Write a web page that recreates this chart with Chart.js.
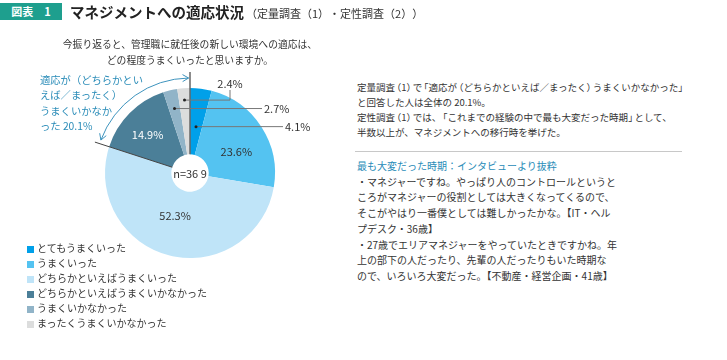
<!DOCTYPE html>
<html lang="ja">
<head>
<meta charset="utf-8">
<script src="https://cdn.jsdelivr.net/npm/chart.js@4.4.0/dist/chart.umd.min.js"></script>
<style>
body { margin:0; width:727px; height:360px; position:relative; background:#fff; overflow:hidden;
  font-family:"Noto Sans CJK JP","Noto Sans",sans-serif; color:#333; }
.abs { position:absolute; white-space:nowrap; }
#pie { position:absolute; left:0; top:0; }
#badge { left:0; top:3px; width:62px; height:17px; background:#1e9f8e; color:#fff; font-size:11px;
  font-weight:700; line-height:17px; text-align:center; }
#title { left:70px; top:2px; font-size:14.5px; font-weight:700; line-height:20px; color:#222; }
#subtitle { left:246px; top:4px; font-size:11px; line-height:18px; color:#333; text-spacing-trim:space-all; }
#question { left:0; width:380px; top:36px; text-align:center; font-size:9.8px; line-height:16px; }
#note { left:40px; top:72px; font-size:10.3px; line-height:15.3px; color:#2a8cb8; }
#summary { left:357px; top:80px; font-size:9.5px; line-height:15px; text-spacing-trim:space-all; }
#summary .o { font-feature-settings:"halt"; margin-left:1.5px; }
#summary .c { font-feature-settings:"halt"; margin-right:1.5px; }
#rule { left:355px; top:151px; width:327px; height:1px; background:#c8c8c8; }
#quotes { left:357px; top:158px; font-size:10px; line-height:15.7px; }
#quotes .head { color:#2a8cb8; }
#legend { left:27px; top:240px; font-size:10px; line-height:15px; }
#legend .sw { display:inline-block; width:7px; height:7px; margin-right:3px; vertical-align:-0.5px; }
</style>
</head>
<body>
<canvas id="pie" width="350" height="360"></canvas>
<div class="abs" id="badge">図表　1</div>
<div class="abs" id="title">マネジメントへの適応状況</div>
<div class="abs" id="subtitle">（定量調査（1）・定性調査（2））</div>
<div class="abs" id="question">今振り返ると、管理職に就任後の新しい環境への適応は、<br>どの程度うまくいったと思いますか。</div>
<div class="abs" id="note">適応が（どちらかとい<br>えば／まったく）<br>うまくいかなか<br>った 20.1%</div>
<div class="abs" id="summary">定量調査<span class="o">（</span>1<span class="c">）</span>で<span class="o">「</span>適応が<span class="o">（</span>どちらかといえば／まったく<span class="c">）</span>うまくいかなかった<span class="c">」</span><br>と回答した人は全体の 20.1%。<br>定性調査<span class="o">（</span>1<span class="c">）</span>では、<span class="o">「</span>これまでの経験の中で最も大変だった時期<span class="c">」</span>として、<br>半数以上が、マネジメントへの移行時を挙げた。</div>
<div class="abs" id="rule"></div>
<div class="abs" id="quotes"><span class="head">最も大変だった時期：インタビューより抜粋</span><br>・マネジャーですね。やっぱり人のコントロールというと<br>ころがマネジャーの役割としては大きくなってくるので、<br>そこがやはり一番僕としては難しかったかな。【IT・ヘル<br>プデスク・36歳】<br>・27歳でエリアマネジャーをやっていたときですかね。年<br>上の部下の人だったり、先輩の人だったりもいた時期な<br>ので、いろいろ大変だった。【不動産・経営企画・41歳】</div>
<div class="abs" id="legend"></div>
<script>
// データ
const categories = ['とてもうまくいった', 'うまくいった', 'どちらかといえばうまくいった',
    'どちらかといえばうまくいかなかった', 'うまくいかなかった', 'まったくうまくいかなかった'];
const values = [4.1, 23.6, 52.3, 14.9, 2.7, 2.4];
const colors = ['#00a0e9', '#54c3f1', '#bfe4f8', '#4b7f98', '#91b4c8', '#dcdddd'];
const sampleLabel = 'n=36 9';

// ラベルの置き方
const labelStyle = [
    { type: 'leader', dotR: 0.55, lineX: 93 },
    { type: 'inside', r: 0.6, da: 8, color: '#333' },
    { type: 'inside', r: 0.53, da: 5.5, color: '#333' },
    { type: 'inside', r: 0.67, da: -3, color: '#fff' },
    { type: 'leader', dotR: 0.78, lineX: 72 },
    { type: 'elbow', dotR: 0.86, lineX: 40, lineY: -83 }
];

// 凡例
let legendHtml = '';
categories.forEach(function(c, i) {
    legendHtml += `<div><span class="sw" style="background:${colors[i]}"></span>${c}</div>`;
});
document.getElementById('legend').innerHTML = legendHtml;

function chevron(ctx, x, y, dx, dy) {
    // (dx,dy) 矢印の向き
    let nx = -dy, ny = dx;
    ctx.beginPath();
    ctx.moveTo(x - dx * 6 + nx * 3.5, y - dy * 6 + ny * 3.5);
    ctx.lineTo(x, y);
    ctx.lineTo(x - dx * 6 - nx * 3.5, y - dy * 6 - ny * 3.5);
    ctx.stroke();
}

const decoPlugin = {
    id: 'deco',
    afterDatasetsDraw(chart) {
        const ctx = chart.ctx;
        const arcs = chart.getDatasetMeta(0).data;
        const cx = arcs[0].x, cy = arcs[0].y;
        const R = arcs[0].outerRadius, r0 = arcs[0].innerRadius;
        ctx.save();
        // 上の縦線
        ctx.strokeStyle = '#666';
        ctx.lineWidth = 1.5;
        ctx.beginPath();
        ctx.moveTo(cx, cy - R - 16);
        ctx.lineTo(cx, cy - r0);
        ctx.stroke();
        // 境界線
        let a = arcs[3].startAngle;
        ctx.strokeStyle = '#444';
        ctx.lineWidth = 1;
        ctx.beginPath();
        ctx.moveTo(cx + Math.cos(a) * r0, cy + Math.sin(a) * r0);
        ctx.lineTo(cx + Math.cos(a) * (R + 15), cy + Math.sin(a) * (R + 15));
        ctx.stroke();
        // 矢印付きの弧
        let rr = R + 10;
        let a1 = a + 0.04, a2 = arcs[5].endAngle - 0.015;
        ctx.strokeStyle = '#3d93bd';
        ctx.beginPath();
        ctx.arc(cx, cy, rr, a1, a2);
        ctx.stroke();
        chevron(ctx, cx + Math.cos(a2) * rr, cy + Math.sin(a2) * rr, -Math.sin(a2), Math.cos(a2));
        chevron(ctx, cx + Math.cos(a1) * rr, cy + Math.sin(a1) * rr, Math.sin(a1), -Math.cos(a1));
        // 中央
        ctx.fillStyle = '#333';
        ctx.font = '11px "Noto Sans CJK JP"';
        ctx.textAlign = 'center';
        ctx.textBaseline = 'middle';
        ctx.fillText(sampleLabel, cx, cy + 1);
        // 数値ラベル
        arcs.forEach(function(el, i) {
            let st = labelStyle[i];
            let text = values[i].toFixed(1) + '%';
            let mid = (el.startAngle + el.endAngle) / 2;
            if (st.type === 'inside') {
                let m = mid + st.da * Math.PI / 180;
                let r = R * st.r;
                ctx.fillStyle = st.color;
                ctx.textAlign = 'center';
                ctx.fillText(text, cx + Math.cos(m) * r, cy + Math.sin(m) * r);
                return;
            }
            let px = cx + Math.cos(mid) * R * st.dotR;
            let py = cy + Math.sin(mid) * R * st.dotR;
            ctx.strokeStyle = '#777';
            ctx.lineWidth = 1;
            ctx.beginPath();
            ctx.moveTo(px, py);
            ctx.lineTo(cx + st.lineX, py);
            if (st.type === 'elbow') ctx.lineTo(cx + st.lineX, cy + st.lineY);
            ctx.stroke();
            ctx.fillStyle = '#222';
            ctx.beginPath();
            ctx.arc(px, py, 1.5, 0, Math.PI * 2);
            ctx.fill();
            ctx.fillStyle = '#333';
            if (st.type === 'elbow') {
                ctx.textAlign = 'center';
                ctx.fillText(text, cx + st.lineX, cy + st.lineY - 6);
            } else {
                ctx.textAlign = 'left';
                ctx.fillText(text, cx + st.lineX + 2, py);
            }
        });
        ctx.restore();
    }
};

new Chart(document.getElementById('pie'), {
    type: 'doughnut',
    data: {
        labels: categories,
        datasets: [{ data: values, backgroundColor: colors, borderWidth: 0 }]
    },
    options: {
        responsive: false,
        animation: false,
        cutout: '22%',
        layout: { padding: { left: 105, top: 88, right: 75, bottom: 102 } },
        plugins: { legend: { display: false }, tooltip: { enabled: false } }
    },
    plugins: [decoPlugin]
});
</script>
</body>
</html>
